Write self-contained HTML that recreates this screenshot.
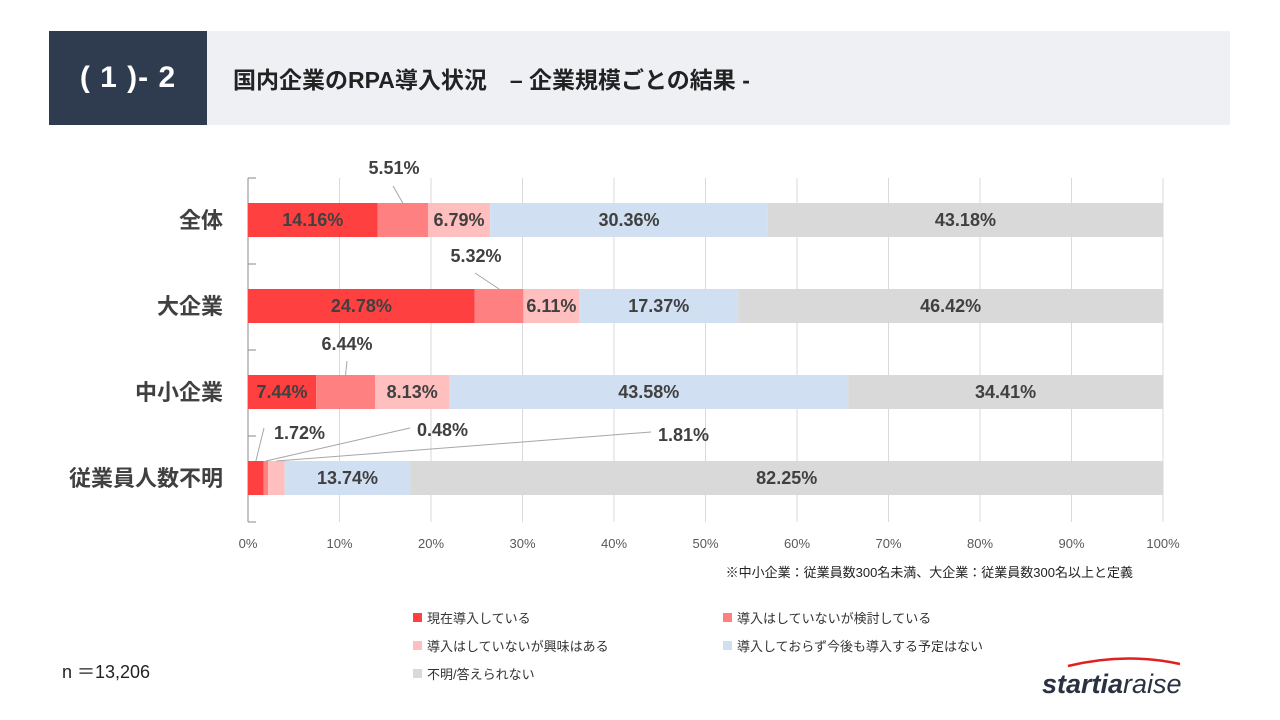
<!DOCTYPE html>
<html><head><meta charset="utf-8">
<style>
body{margin:0;width:1280px;height:720px;background:#fff;font-family:"Liberation Sans","Noto Sans CJK JP",sans-serif;overflow:hidden;position:relative}
.hdr-dark{position:absolute;left:49px;top:31px;width:158px;height:94px;background:#2f3b4f;color:#fff;font-size:30px;font-weight:bold;display:flex;align-items:center;justify-content:center;letter-spacing:1px}
.hdr-light{position:absolute;left:207px;top:31px;width:1023px;height:94px;background:#eef0f4;color:#222;font-size:23px;font-weight:bold;display:flex;align-items:center;padding-left:26px;box-sizing:border-box}
svg{position:absolute;left:0;top:0}
</style></head><body>
<div class="hdr-dark">( 1 )- 2</div>
<div class="hdr-light">国内企業のRPA導入状況　– 企業規模ごとの結果 -</div>
<svg id="c" width="1280" height="720"></svg>
<script>
const categories=["全体","大企業","中小企業","従業員人数不明"];
const s1=[14.16,24.78,7.44,1.72];
const s2=[5.51,5.32,6.44,0.48];
const s3=[6.79,6.11,8.13,1.81];
const s4=[30.36,17.37,43.58,13.74];
const s5=[43.18,46.42,34.41,82.25];
const seriesNames=["現在導入している","導入はしていないが検討している","導入はしていないが興味はある","導入しておらず今後も導入する予定はない","不明/答えられない"];
const colors=["#ff4040","#ff8080","#ffbfbf","#d0e0f2","#d9d9d9"];
const ticks=[0,10,20,30,40,50,60,70,80,90,100];
const svg=document.getElementById('c');const NS="http://www.w3.org/2000/svg";
function el(t,a,txt){const e=document.createElementNS(NS,t);for(const k in a)e.setAttribute(k,a[k]);if(txt!=null)e.textContent=txt;svg.appendChild(e);return e;}
const X0=248,X1=1163,Y0=178,BAND=86;
const x=v=>X0+(X1-X0)*v/100;
const yc=i=>Y0+BAND*i+42;
ticks.forEach(t=>{
 const g=el('line',{x1:x(t),x2:x(t),y1:Y0,y2:522,stroke:'#d9d9d9','stroke-width':1});
 
 const l=el('text',{x:x(t),y:548,'font-size':13,fill:'#595959','text-anchor':'middle'},t+'%');
 
});
el('line',{x1:X0,x2:X0,y1:Y0,y2:522,stroke:'#888','stroke-width':1});
for(let i=0;i<=4;i++){el('line',{x1:X0,x2:X0+8,y1:Y0+BAND*i,y2:Y0+BAND*i,stroke:'#888','stroke-width':1});}
const series=[s1,s2,s3,s4,s5];
categories.forEach((c,i)=>{
 const lab=el('text',{x:223,y:yc(i)+8,'font-size':22,'font-weight':'bold',fill:'#404040','text-anchor':'end'},c);
 
 let acc=0;
 series.forEach((s,k)=>{
  const v=s[i];
  const r=el('rect',{x:x(acc),y:yc(i)-17,width:x(acc+v)-x(acc),height:34,fill:colors[k]});
  
  const inside=!((i<3&&k==1)||(i==3&&k<3));
  if(inside){const t=el('text',{x:(x(acc)+x(acc+v))/2,y:yc(i)+6,'font-size':18,'font-weight':'bold',fill:'#404040','text-anchor':'middle'},v.toFixed(2)+'%');
   }
  acc+=v;
 });
});
function callout(i,k,tx,ty,lx,ly,anchor){
 let acc=0;for(let j=0;j<k;j++)acc+=series[j][i];
 const v=series[k][i];const mx=(x(acc)+x(acc+v))/2;
 el('line',{x1:lx,y1:ly,x2:mx,y2:yc(i)-17,stroke:'#a6a6a6','stroke-width':1});
 const t=el('text',{x:tx,y:ty,'font-size':18,'font-weight':'bold',fill:'#404040','text-anchor':anchor},v.toFixed(2)+'%');
 
}
callout(0,1,394,174,393,186,'middle');
callout(1,1,476,262,475,273,'middle');
callout(2,1,347,350,347,361,'middle');
callout(3,0,274,439,264,428,'start');
callout(3,1,417,436,410,428,'start');
callout(3,2,658,441,651,432,'start');
el('text',{x:1133,y:577,'font-size':13,fill:'#222','text-anchor':'end'},'※中小企業：従業員数300名未満、大企業：従業員数300名以上と定義');
const lp=[[413,618],[723,618],[413,646],[723,646],[413,674]];
seriesNames.forEach((n,k)=>{
 const r=el('rect',{x:lp[k][0],y:lp[k][1]-5,width:9,height:9,fill:colors[k]});
 
 const t=el('text',{x:lp[k][0]+14,y:lp[k][1]+5,'font-size':13,fill:'#333'},n);
 
});
const n=el('text',{x:62,y:678,'font-size':18,fill:'#222'},'n ＝13,206');

el('path',{d:'M1068 666 Q1125 652 1180 664',stroke:'#e02020','stroke-width':2.5,fill:'none'});
const lg=el('text',{x:1042,y:693,'font-size':27,'font-style':'italic',fill:'#2a3242'});

const a=document.createElementNS(NS,'tspan');a.setAttribute('font-weight','bold');a.textContent='startia';lg.appendChild(a);
const b=document.createElementNS(NS,'tspan');b.textContent='raise';lg.appendChild(b);
</script>
</body></html>
